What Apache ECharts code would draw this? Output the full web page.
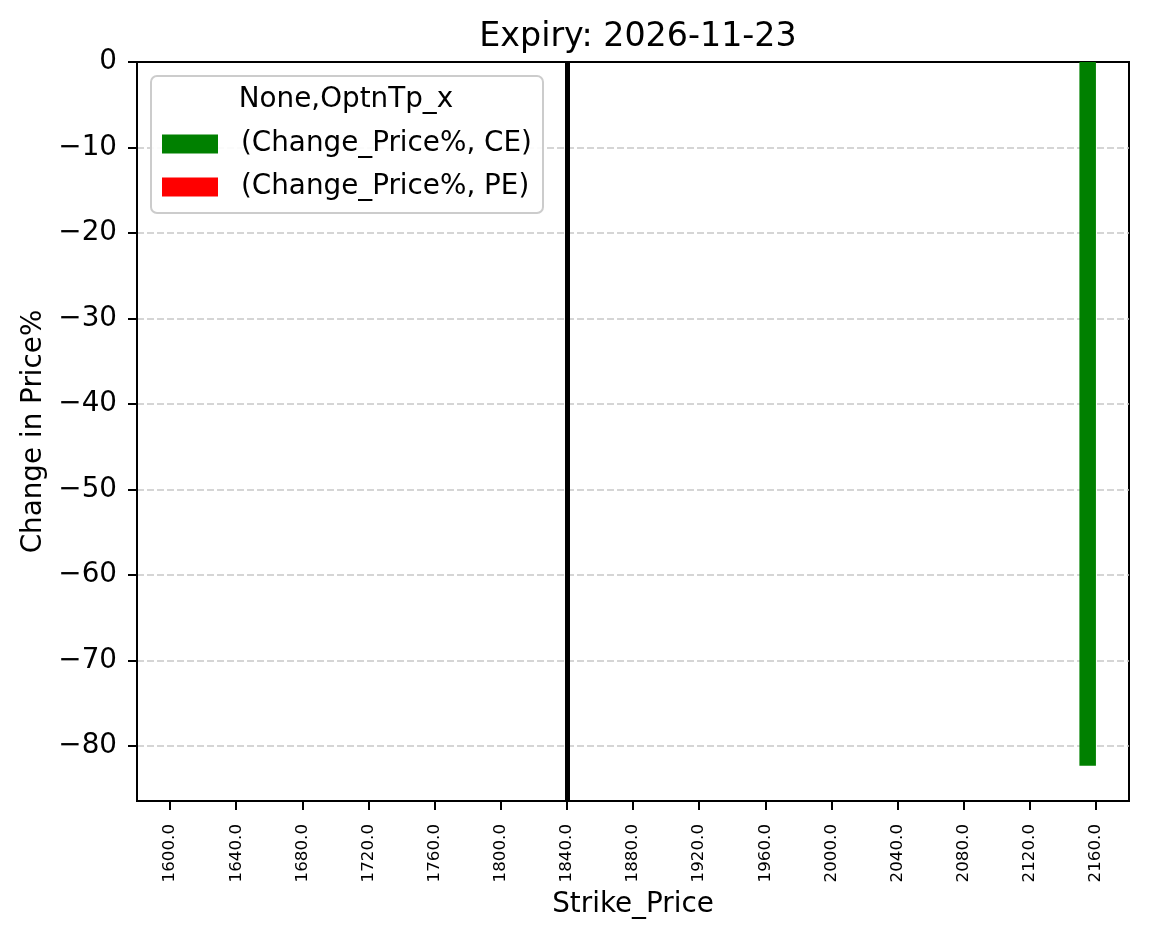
<!DOCTYPE html>
<html>
<head>
<meta charset="utf-8">
<title>Expiry: 2026-11-23</title>
<script src="https://cdn.jsdelivr.net/npm/echarts@6/dist/echarts.min.js"></script>
<style>
	html,body{margin:0;padding:0;background:#fff;}
	#main{width:1149px;height:939px;}
</style>
</head>
<body>
<div id="main"></div>
<script>
// strikes on the x axis
var strikes = [1600,1640,1680,1720,1760,1800,1840,1880,1920,1960,2000,2040,2080,2120,2160];
// change in price % for calls / puts, null where there is no bar
var ceChange = [null,null,null,null,null,null,null,null,null,null,null,null,null,null,-82.33];
var peChange = [null,null,null,null,null,null,null,null,null,null,null,null,null,null,null];
var spotStrike = '1840.0';
var yMin = -86.45;
var yMax = 0;

var font = 'DejaVu Sans';
var labels = strikes.map(function(s){ return s.toFixed(1); });

var chart = echarts.init(document.getElementById('main'));

var option = {
	animation:false,
	backgroundColor:'#fff',
	textStyle:{fontFamily:font},
	title:{
		text:'Expiry: 2026-11-23',
		left:633,
		top:16,
		textAlign:'center',
		textStyle:{fontFamily:font,fontSize:33.3,fontWeight:'normal',color:'#000'}
	},
	grid:{
		left:137,
		right:20,
		top:62,
		bottom:138,
		show:true,
		borderColor:'#000',
		borderWidth:2,
		backgroundColor:'transparent'
	},
	legend:{
		orient:'vertical',
		left:162,
		top:130,
		padding:0,
		itemWidth:56,
		itemHeight:19,
		itemGap:15,
		icon:'rect',
		z:6,
		textStyle:{fontFamily:font,fontSize:27.8,color:'#000',lineHeight:28,padding:[0,0,0,18]},
		data:['(Change_Price%, CE)','(Change_Price%, PE)']
	},
	graphic:[
		{
			type:'rect',
			z:4,
			shape:{x:151,y:76,width:392,height:137,r:6},
			style:{fill:'rgba(255,255,255,0.9)',stroke:'#cccccc',lineWidth:2}
		},
		{
			type:'text',
			z:6,
			x:346,
			y:100,
			style:{text:'None,OptnTp_x',fill:'#000',font:'27.8px "DejaVu Sans"',textAlign:'center',textVerticalAlign:'middle'}
		}
	],
	xAxis:{
		type:'category',
		data:labels,
		boundaryGap:true,
		name:'Strike_Price',
		nameLocation:'middle',
		nameGap:88,
		nameTextStyle:{fontFamily:font,fontSize:27.8,color:'#000'},
		axisLine:{show:true,onZero:false,lineStyle:{color:'#000',width:2}},
		axisTick:{show:true,alignWithLabel:true,length:9,lineStyle:{color:'#000',width:2}},
		axisLabel:{rotate:90,fontSize:16.7,color:'#000',margin:23,fontFamily:font,interval:0,padding:[3,0,0,0]},
		splitLine:{show:false}
	},
	yAxis:{
		type:'value',
		min:yMin,
		max:yMax,
		splitNumber:9,
		name:'Change in Price%',
		nameLocation:'middle',
		nameGap:89,
		nameTextStyle:{fontFamily:font,fontSize:27.8,color:'#000'},
		axisLine:{show:true,lineStyle:{color:'#000',width:2}},
		axisTick:{show:true,length:9,lineStyle:{color:'#000',width:2}},
		axisLabel:{
			fontSize:27.8,
			color:'#000',
			margin:20,
			fontFamily:font,
			showMinLabel:false,
			formatter:function(v){ return String(v).replace('-','\u2212'); }
		},
		splitLine:{show:true,showMinLine:false,showMaxLine:false,lineStyle:{color:'#c8c8c8',width:1.6,type:[7,3]}}
	},
	series:[
		{
			name:'(Change_Price%, CE)',
			type:'bar',
			data:ceChange,
			barWidth:'25%',
			barGap:'0%',
			itemStyle:{color:'#008000'}
		},
		{
			name:'(Change_Price%, PE)',
			type:'bar',
			data:peChange,
			barWidth:'25%',
			barGap:'0%',
			itemStyle:{color:'#ff0000'}
		},
		{
			name:'spot',
			type:'line',
			data:[],
			markLine:{
				silent:true,
				symbol:'none',
				label:{show:false},
				lineStyle:{color:'#000',width:5,type:'solid'},
				data:[{xAxis:spotStrike}]
			}
		}
	]
};

chart.setOption(option);
</script>
</body>
</html>
